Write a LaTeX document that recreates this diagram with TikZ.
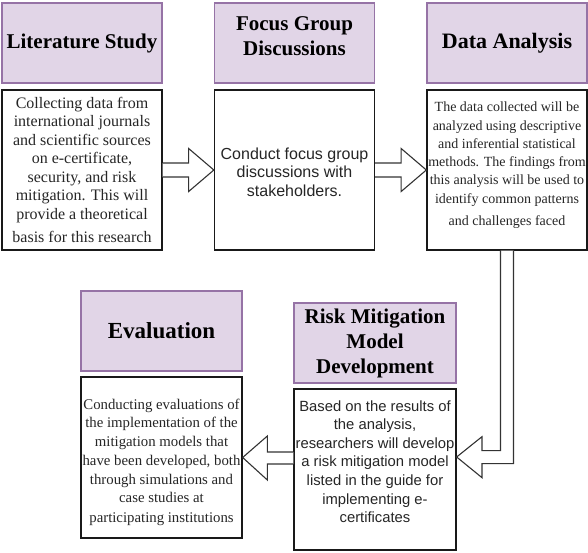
\documentclass[tikz,border=0pt]{standalone}
\usepackage{fontspec}
\setmainfont{Liberation Serif}
\setsansfont{Liberation Sans}
\usetikzlibrary{calc}
\definecolor{hdrfill}{HTML}{E1D5E7}
\definecolor{hdrline}{HTML}{9673A6}
\definecolor{bodytext}{HTML}{262626}
\definecolor{arrline}{HTML}{333333}
\tikzset{
  hdrbox/.style={draw=hdrline, fill=hdrfill, line width=1.1pt, minimum width=160pt, minimum height=80pt, inner sep=0pt, align=center, text=black},
  bodybox/.style={draw=black!90, fill=white, line width=1.3pt, minimum width=160pt, minimum height=160pt, inner sep=0pt},
  bodytxt/.style={align=center, text=bodytext, inner sep=0pt},
  blockarrow/.style={draw=arrline, fill=white, line width=1.1pt, line join=miter}
}
\begin{document}
\begin{tikzpicture}[x=1pt,y=-1pt]
\useasboundingbox (0,0) rectangle (588,552);
% headers
\node[hdrbox, font=\bfseries\fontsize{21}{25}\selectfont] (lithead) at (82,43) {Literature Study};
\node[hdrbox, font=\bfseries\fontsize{21}{25}\selectfont] (focushead) at (294.5,43) {Focus Group\\Discussions\rule[-14pt]{0pt}{0pt}};
\node[hdrbox, font=\bfseries\fontsize{22}{25}\selectfont] (datahead) at (507,43) {Data Analysis};
\node[hdrbox, font=\bfseries\fontsize{21}{25}\selectfont, minimum width=162pt] (riskhead) at (375,343) {Risk Mitigation\\Model\\Development};
\node[hdrbox, font=\bfseries\fontsize{23}{25}\selectfont, minimum width=161pt] (evalhead) at (161.5,331) {Evaluation};
% bodies
\node[bodybox] (litbody) at (82,170) {};
\node[bodybox] (focusbody) at (294.5,170) {};
\node[bodybox] (databody) at (507,170) {};
\node[bodybox, minimum width=162pt, minimum height=161pt] (riskbody) at (375,469.5) {};
\node[bodybox, minimum width=161pt, minimum height=161pt] (evalbody) at (161.5,457.5) {};
% body texts
\node[bodytxt, font=\fontsize{16}{18.5}\selectfont] (littext) at ($(litbody)+(0,0)$) {Collecting data from\\international journals\\and scientific sources\\on e-certificate,\\security, and risk\\mitigation. This will\\provide a theoretical\\[5pt]basis for this research};
\node[bodytxt, font=\sffamily\fontsize{16}{18.3}\selectfont] (focustext) at ($(focusbody)+(0,2)$) {Conduct focus group\\discussions with\\stakeholders.};
\node[bodytxt, font=\fontsize{14}{18.3}\selectfont] (datatext) at ($(databody)+(0,-5)$) {The data collected will be\\analyzed using descriptive\\and inferential statistical\\methods. The findings from\\this analysis will be used to\\identify common patterns\\[3.5pt]and challenges faced};
\node[bodytxt, font=\sffamily\fontsize{14.8}{18.6}\selectfont] (risktext) at ($(riskbody)+(0,-8)$) {Based on the results of\\the analysis,\\researchers will develop\\a risk mitigation model\\listed in the guide for\\implementing e-\\certificates};
\node[bodytxt, font=\fontsize{14.8}{18.7}\selectfont] (evaltext) at ($(evalbody)+(0,5)$) {Conducting evaluations of\\the implementation of the\\mitigation models that\\have been developed, both\\through simulations and\\case studies at\\[1.5pt]participating institutions};
% arrows
\draw[blockarrow] ($(litbody.east)+(0,-7)$) -- ($(litbody.east)+(26,-7)$) -- ($(litbody.east)+(26,-21.5)$) -- (focusbody.west) -- ($(litbody.east)+(26,21.5)$) -- ($(litbody.east)+(26,7)$) -- ($(litbody.east)+(0,7)$);
\draw[blockarrow] ($(focusbody.east)+(0,-7)$) -- ($(focusbody.east)+(26,-7)$) -- ($(focusbody.east)+(26,-21.5)$) -- (databody.west) -- ($(focusbody.east)+(26,21.5)$) -- ($(focusbody.east)+(26,7)$) -- ($(focusbody.east)+(0,7)$);
\coordinate (tip3) at ($(riskbody.east)+(0,-12.5)$);
\draw[blockarrow] ($(databody.south)+(-6.5,0)$) -- ($(databody.south)+(-6.5,200)$) -- ($(databody.south)+(-25,200)$) -- ($(databody.south)+(-25,186)$) -- (tip3) -- ($(databody.south)+(-25,227)$) -- ($(databody.south)+(-25,213)$) -- ($(databody.south)+(6.5,213)$) -- ($(databody.south)+(6.5,0)$);
\coordinate (a4) at ($(riskbody.west)+(0,-11.5)$);
\draw[blockarrow] ($(a4)+(0,-6)$) -- ($(a4)+(-26,-6)$) -- ($(a4)+(-26,-22)$) -- (evalbody.east) -- ($(a4)+(-26,22)$) -- ($(a4)+(-26,6)$) -- ($(a4)+(0,6)$);
\end{tikzpicture}
\end{document}
